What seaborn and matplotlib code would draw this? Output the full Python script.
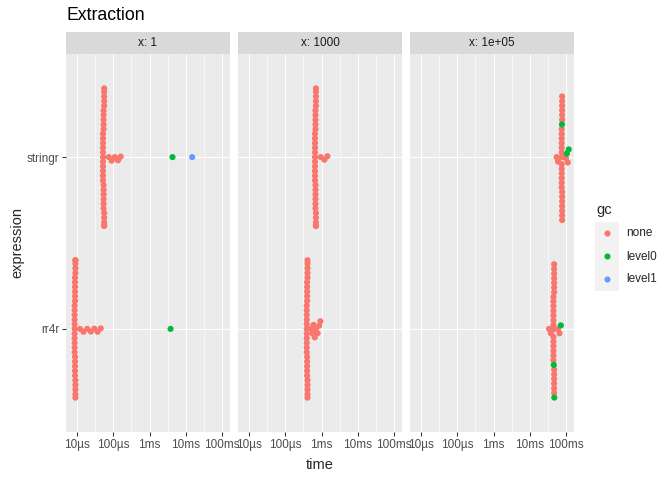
import numpy as np
import pandas as pd
import seaborn as sns
import matplotlib.pyplot as plt
import matplotlib.patheffects as pe
from matplotlib.ticker import FixedLocator, FixedFormatter, NullFormatter

expressions = ["stringr", "rr4r"]
gc_levels = ["none", "level0", "level1"]
gc_colors = ["#F8766D", "#00BA38", "#619CFF"]
facets = ["1", "1000", "1e+05"]

tick_values = [1e-5, 1e-4, 1e-3, 1e-2, 1e-1]
tick_labels = ["10µs", "100µs", "1ms", "10ms", "100ms"]
minor_values = [10 ** -4.5, 10 ** -3.5, 10 ** -2.5, 10 ** -1.5]

# timings (seconds) and how many runs sit at each one
# x = 1
x1_stringr_none_t = [52e-6, 54e-6, 56e-6, 75e-6, 90e-6, 110e-6, 135e-6, 160e-6]
x1_stringr_none_n = [11, 11, 10, 1, 1, 1, 1, 1]
x1_stringr_level0_t = [4.3e-3]
x1_stringr_level1_t = [15e-3]
x1_rr4r_none_t = [8.6e-6, 8.8e-6, 9.0e-6, 12e-6, 15e-6, 19e-6, 24e-6, 30e-6, 37e-6, 45e-6]
x1_rr4r_none_n = [11, 11, 10, 1, 1, 1, 1, 1, 1, 1]
x1_rr4r_level0_t = [3.8e-3]

# x = 1000
x1000_stringr_none_t = [0.66e-3, 0.68e-3, 0.70e-3, 0.95e-3, 1.2e-3, 1.45e-3]
x1000_stringr_none_n = [11, 11, 10, 1, 1, 1]
x1000_rr4r_none_t = [0.39e-3, 0.40e-3, 0.41e-3, 0.52e-3, 0.56e-3, 0.60e-3,
                     0.65e-3, 0.70e-3, 0.78e-3, 0.86e-3, 0.93e-3]
x1000_rr4r_none_n = [11, 10, 10, 1, 1, 1, 1, 1, 1, 1, 1]

# x = 1e+05
x1e5_stringr_none_t = [55e-3, 60e-3, 76e-3, 78e-3, 100e-3, 112e-3]
x1e5_stringr_none_n = [1, 1, 13, 13, 1, 1]
x1e5_stringr_level0_t = [77e-3, 105e-3, 119e-3]
x1e5_rr4r_none_t = [34e-3, 38e-3, 45e-3, 47e-3, 60e-3, 66e-3]
x1e5_rr4r_none_n = [1, 1, 14, 13, 1, 1]
x1e5_rr4r_level0_t = [46e-3, 47.5e-3, 72e-3]

rows = []


def add(facet, expr, gc, times, counts=None):
    if counts is None:
        counts = [1] * len(times)
    for t in np.repeat(times, counts):
        rows.append({"x": facet, "expression": expr, "gc": gc, "time": t})


add("1", "stringr", "none", x1_stringr_none_t, x1_stringr_none_n)
add("1", "stringr", "level0", x1_stringr_level0_t)
add("1", "stringr", "level1", x1_stringr_level1_t)
add("1", "rr4r", "none", x1_rr4r_none_t, x1_rr4r_none_n)
add("1", "rr4r", "level0", x1_rr4r_level0_t)
add("1000", "stringr", "none", x1000_stringr_none_t, x1000_stringr_none_n)
add("1000", "rr4r", "none", x1000_rr4r_none_t, x1000_rr4r_none_n)
add("1e+05", "stringr", "none", x1e5_stringr_none_t, x1e5_stringr_none_n)
add("1e+05", "stringr", "level0", x1e5_stringr_level0_t)
add("1e+05", "rr4r", "none", x1e5_rr4r_none_t, x1e5_rr4r_none_n)
add("1e+05", "rr4r", "level0", x1e5_rr4r_level0_t)

df = pd.DataFrame(rows)
palette = dict(zip(gc_levels, gc_colors))

sns.set_theme(style="darkgrid")
plt.rcParams["font.family"] = ["Liberation Sans", "DejaVu Sans"]

W, H = 672, 480
fig = plt.figure(figsize=(6.72, 4.8), dpi=100)
k = 0.96  # ggplot was rendered at 96 dpi


def fx(px):
    return px / W


def fy(py):
    return 1 - py / H


panel_left = [66, 238, 410]
panel_w = 164
top, bottom = 54, 432
strip_top = 32

for i, facet in enumerate(facets):
    ax = fig.add_axes([fx(panel_left[i]), fy(bottom), panel_w / W, (bottom - top) / H])
    sub = df[df["x"] == facet]
    # swarm packed with small markers, then fattened with a stroke so dots overlap
    sns.swarmplot(data=sub, x="time", y="expression", hue="gc",
                  order=expressions, hue_order=gc_levels, palette=palette,
                  size=3.2, log_scale=True, legend=False, ax=ax)
    for coll in ax.collections:
        coll.set_edgecolor("face")
        coll.set_path_effects([pe.Stroke(linewidth=1.2)])
    ax.set_facecolor("#EBEBEB")
    ax.set_xlim(10 ** -5.305, 10 ** -0.78)
    ax.set_ylim(1.6, -0.6)
    ax.xaxis.set_major_locator(FixedLocator(tick_values))
    ax.xaxis.set_major_formatter(FixedFormatter(tick_labels))
    ax.xaxis.set_minor_locator(FixedLocator(minor_values))
    ax.xaxis.set_minor_formatter(NullFormatter())
    ax.grid(True, which="major", color="white", linewidth=0.77)
    ax.grid(True, which="minor", axis="x", color="white", linewidth=0.38)
    ax.set_axisbelow(True)
    for s in ax.spines.values():
        s.set_visible(False)
    ax.tick_params(axis="x", which="major", length=2.64, width=0.77, color="#333333",
                   labelsize=8.8 * k, labelcolor="#4D4D4D", pad=2.1, bottom=True)
    ax.tick_params(axis="x", which="minor", length=0)
    if i == 0:
        ax.tick_params(axis="y", length=2.64, width=0.77, color="#333333",
                       labelsize=8.8 * k, labelcolor="#4D4D4D", pad=2.1, left=True)
    else:
        ax.tick_params(axis="y", length=0, labelleft=False)
    ax.set_xlabel("")
    ax.set_ylabel("")

    strip = fig.add_axes([fx(panel_left[i]), fy(top), panel_w / W, (top - strip_top) / H])
    strip.set_facecolor("#D9D9D9")
    strip.set_xticks([])
    strip.set_yticks([])
    for s in strip.spines.values():
        s.set_visible(False)
    strip.text(0.5, 0.5, f"x: {facet}", ha="center", va="center",
               fontsize=8.8 * k, color="#1A1A1A", transform=strip.transAxes)

fig.text(fx(66), fy(20), "Extraction", fontsize=13.2 * k, color="black", va="baseline")
fig.text(fx(320), fy(469), "time", fontsize=11 * k, ha="center", va="baseline")
fig.text(fx(17), fy(243), "expression", fontsize=11 * k, rotation=90,
         ha="center", va="center")

# legend
fig.text(fx(596), fy(214), "gc", fontsize=11 * k, va="baseline")
leg = fig.add_axes([fx(595), fy(290.7), 24.3 / W, 69 / H])
leg.set_facecolor("#F2F2F2")
leg.set_xlim(0, 1)
leg.set_ylim(3, 0)
leg.set_xticks([])
leg.set_yticks([])
for s in leg.spines.values():
    s.set_visible(False)
for j, (lev, col) in enumerate(zip(gc_levels, gc_colors)):
    leg.scatter([0.5], [j + 0.5], s=4.4 ** 2, color=col, linewidths=0)
    fig.text(fx(626), fy(233.5 + 23 * j), lev, fontsize=8.8 * k, va="center")

fig.savefig("out.png", dpi=100)
